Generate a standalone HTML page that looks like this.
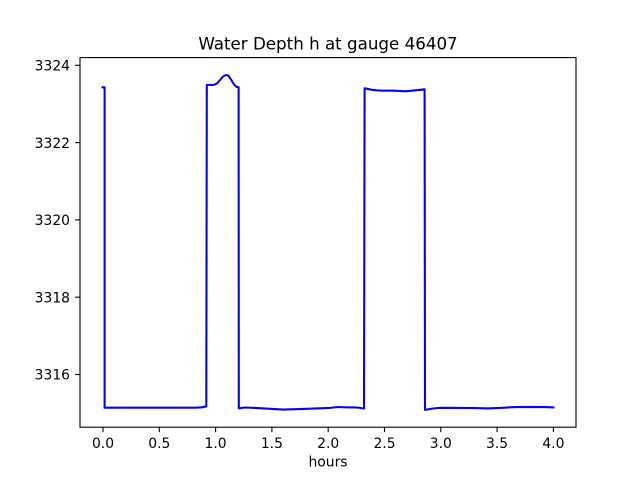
<!DOCTYPE html>
<html><head><meta charset="utf-8"><style>
html,body{margin:0;padding:0;background:#fff;}
svg{display:block;}
text{font-family:"DejaVu Sans","Liberation Sans",sans-serif;fill:#000;}
</style></head><body>
<svg width="640" height="480" viewBox="0 0 640 480" xmlns="http://www.w3.org/2000/svg">
<rect width="640" height="480" fill="#fff"/>
<text x="328" y="49.3" font-size="16.7" text-anchor="middle">Water Depth h at gauge 46407</text>
<path d="M102.5,87.3 L104.6,87.3 L104.6,407.7 L195,407.7 L202,407.3 L206.3,406.3 L206.8,85 L214,84.8 L217,83.5 L220,80 L223,76.5 L226,75 L228.5,75.8 L231,79.5 L234,84.5 L236.5,86.8 L238.6,87.2 L238.8,408.3 L245,407.5 L255,407.9 L270,408.8 L283,409.6 L300,409.1 L320,408.3 L330,407.9 L338,407 L345,407.3 L355,407.4 L360,407.9 L364,408.6 L364.6,88.3 L372,89.8 L380,90.6 L395,90.7 L400,91 L405,91.3 L412,90.7 L420,89.8 L424.6,89.3 L425,409.9 L432,408.6 L440,407.8 L460,407.9 L475,408.1 L488,408.4 L500,407.9 L515,407.1 L530,406.9 L545,407.1 L553.4,407.4" fill="none" stroke="#0000ff" stroke-width="2.08" stroke-linejoin="round" stroke-linecap="square"/>
<rect x="80" y="57.6" width="496" height="369.6" fill="none" stroke="#000" stroke-width="1.1"/>
<g stroke="#000" stroke-width="1.1">
<line x1="80" x2="75.1" y1="65.3" y2="65.3"/>
<line x1="80" x2="75.1" y1="142.6" y2="142.6"/>
<line x1="80" x2="75.1" y1="219.9" y2="219.9"/>
<line x1="80" x2="75.1" y1="297.2" y2="297.2"/>
<line x1="80" x2="75.1" y1="374.5" y2="374.5"/>
<line y1="427.2" y2="432.1" x1="103" x2="103"/>
<line y1="427.2" y2="432.1" x1="159.3" x2="159.3"/>
<line y1="427.2" y2="432.1" x1="215.6" x2="215.6"/>
<line y1="427.2" y2="432.1" x1="271.9" x2="271.9"/>
<line y1="427.2" y2="432.1" x1="328.2" x2="328.2"/>
<line y1="427.2" y2="432.1" x1="384.5" x2="384.5"/>
<line y1="427.2" y2="432.1" x1="440.8" x2="440.8"/>
<line y1="427.2" y2="432.1" x1="497.1" x2="497.1"/>
<line y1="427.2" y2="432.1" x1="553.4" x2="553.4"/>
</g>
<g font-size="13.9" text-anchor="end">
<text x="70" y="70.5">3324</text>
<text x="70" y="147.8">3322</text>
<text x="70" y="225.1">3320</text>
<text x="70" y="302.4">3318</text>
<text x="70" y="379.7">3316</text>
</g>
<g font-size="13.9" text-anchor="middle">
<text x="103" y="448">0.0</text>
<text x="159.3" y="448">0.5</text>
<text x="215.6" y="448">1.0</text>
<text x="271.9" y="448">1.5</text>
<text x="328.2" y="448">2.0</text>
<text x="384.5" y="448">2.5</text>
<text x="440.8" y="448">3.0</text>
<text x="497.1" y="448">3.5</text>
<text x="553.4" y="448">4.0</text>
<text x="328" y="466.5">hours</text>
</g>
</svg>
</body></html>
